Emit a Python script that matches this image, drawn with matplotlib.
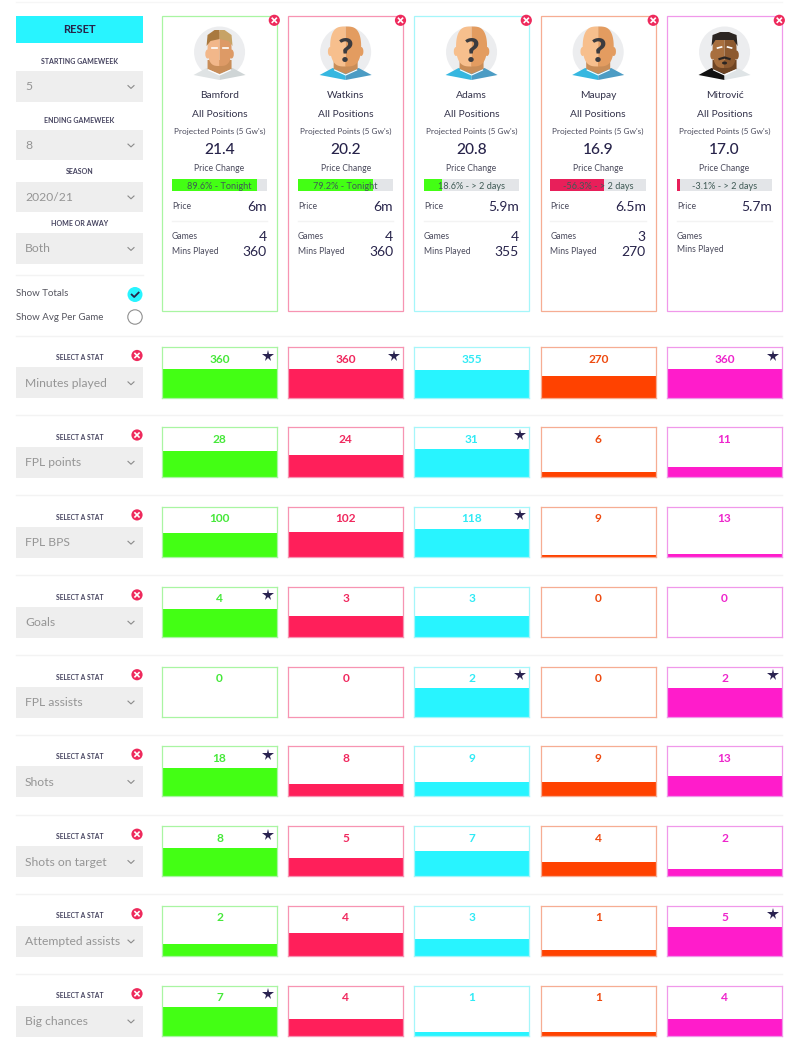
import numpy as np
import matplotlib
matplotlib.use('Agg')
import matplotlib.pyplot as plt
from matplotlib.patches import Rectangle, Circle, Polygon, Ellipse

plt.rcParams['font.family'] = ['Lato', 'DejaVu Sans']

# Player data
players = ['Bamford', 'Watkins', 'Adams', 'Maupay', 'Mitrović']
projected = ['21.4', '20.2', '20.8', '16.9', '17.0']
price_change = [89.6, 79.2, 18.6, -56.3, -3.1]
price_when = ['Tonight', 'Tonight', '> 2 days', '> 2 days', '> 2 days']
prices = ['6m', '6m', '5.9m', '6.5m', '5.7m']
games = ['4', '4', '4', '3', '']
mins = ['360', '360', '355', '270', '']

# Stat rows
stat_names = ['Minutes played', 'FPL points', 'FPL BPS', 'Goals', 'FPL assists',
              'Shots', 'Shots on target', 'Attempted assists', 'Big chances']
minutes_played = [360, 360, 355, 270, 360]
fpl_points = [28, 24, 31, 6, 11]
fpl_bps = [100, 102, 118, 9, 13]
goals = [4, 3, 3, 0, 0]
fpl_assists = [0, 0, 2, 0, 2]
shots = [18, 8, 9, 9, 13]
shots_on_target = [8, 5, 7, 4, 2]
attempted_assists = [2, 4, 3, 1, 5]
big_chances = [7, 4, 1, 1, 4]
stat_rows = [minutes_played, fpl_points, fpl_bps, goals, fpl_assists,
             shots, shots_on_target, attempted_assists, big_chances]

# Filters
filter_labels = ['STARTING GAMEWEEK', 'ENDING GAMEWEEK', 'SEASON', 'HOME OR AWAY']
filter_values = ['5', '8', '2020/21', 'Both']

W, H = 800, 1050
bar_colors = ['#43ff14', '#ff1f5a', '#28f4ff', '#ff4200', '#ff1ccb']
edge_colors = ['#a9f5a2', '#f794b2', '#a5f6fa', '#f6ad93', '#f098ea']
text_colors = ['#46e83a', '#f0285e', '#30eaf5', '#ee4a10', '#ee25cc']
card_left = [162.3, 288.3, 414.3, 540.7, 667.3]
card_right = [276.8, 403, 528.8, 655.7, 781.8]
DARK = '#27234a'
GREY_TXT = '#4a4a5c'
row_top = [347.3, 426.8, 506.7, 586.7, 666.5, 746, 826, 905.5, 985.5]
row_h = 50.2


def px_axes(x0, y0, x1, y1, **kw):
    return fig.add_axes([x0 / W, 1 - y1 / H, (x1 - x0) / W, (y1 - y0) / H], **kw)


fig = plt.figure(figsize=(8, 10.5), dpi=100, facecolor='white')

# page layer in pixel coordinates
bg = fig.add_axes([0, 0, 1, 1], zorder=0)
bg.set_xlim(0, W)
bg.set_ylim(H, 0)
bg.axis('off')


def dropdown(y0, y1, label):
    bg.add_patch(Rectangle((16.3, y0), 126.7, y1 - y0, fc='#eeeeee', ec='none'))
    bg.text(25, (y0 + y1) / 2 + 0.5, label, fontsize=8.7, color='#959595', va='center', ha='left')
    ym = (y0 + y1) / 2 + 0.5
    bg.plot([128, 131, 134], [ym - 1.4, ym + 1.4, ym - 1.4], color='#8a8a8a', lw=0.8)


def remove_icon(x, y, r=5.6):
    bg.add_patch(Circle((x, y), r, fc='#ee2a5c', ec='none', zorder=6))
    d = r * 0.36
    bg.plot([x - d, x + d], [y - d, y + d], color='white', lw=1.2, zorder=7)
    bg.plot([x - d, x + d], [y + d, y - d], color='white', lw=1.2, zorder=7)


def half_head(cx, cy, rx, ry, side):
    # rounded box outline, flatter than an ellipse
    t = np.linspace(-np.pi / 2, np.pi / 2, 40)
    return np.column_stack([cx + side * rx * np.cos(t) ** 0.6,
                            cy + ry * np.sign(np.sin(t)) * np.abs(np.sin(t)) ** 0.9])


def avatar(cx, kind):
    cy = 52
    bg.add_patch(Circle((cx, cy), 25.5, fc='#ecedef', ec='none', zorder=1))
    if kind == 'unknown':
        skin_l, skin_r, neck = '#f7bf8d', '#e39c60', '#c98d58'
        sh_l, sh_r = '#36b7e0', '#4c9cc4'
        head_rx, head_ry, head_y = 15.5, 20, 46.5
    elif kind == 'blond':
        skin_l, skin_r, neck = '#f2b78a', '#dd9a66', '#c98d58'
        sh_l, sh_r = '#dfe3e4', '#cfd5d6'
        head_rx, head_ry, head_y = 12, 17, 49
    else:
        skin_l, skin_r, neck = '#a86f3e', '#8d5a30', '#6e4423'
        sh_l, sh_r = '#111111', '#dfe4e6'
        head_rx, head_ry, head_y = 12, 18, 50
    # shoulders
    bg.add_patch(Polygon([(cx - 26, 75), (cx - 13, 68), (cx, 72), (cx, 80)], fc=sh_l, ec='none', zorder=2))
    bg.add_patch(Polygon([(cx + 26, 75), (cx + 13, 68), (cx, 72), (cx, 80)], fc=sh_r, ec='none', zorder=2))
    # neck
    bg.add_patch(Polygon([(cx - 12, 60), (cx + 12, 60), (cx + 12, 69), (cx, 74), (cx - 12, 69)],
                         fc=neck, ec='none', zorder=3))
    bg.plot([cx - 11, cx, cx + 11], [70, 75, 70], color='white', lw=0.8, zorder=3)
    # ears
    bg.add_patch(Ellipse((cx - head_rx, head_y + 5), 4.5, 9, fc=skin_l, ec='none', zorder=3))
    bg.add_patch(Ellipse((cx + head_rx, head_y + 5), 4.5, 9, fc=skin_r, ec='none', zorder=3))
    # face halves
    bg.add_patch(Polygon(half_head(cx, head_y, head_rx, head_ry, -1), fc=skin_l, ec='none', zorder=4))
    bg.add_patch(Polygon(half_head(cx, head_y, head_rx, head_ry, 1), fc=skin_r, ec='none', zorder=4))
    if kind == 'unknown':
        bg.text(cx, 52, '?', fontsize=24, fontweight='black', color='#3b3b3f',
                ha='center', va='center', zorder=5)
    elif kind == 'blond':
        bg.add_patch(Polygon([(cx - 13, 46), (cx - 12, 35), (cx - 5, 30), (cx, 30), (cx, 39), (cx - 9, 41)],
                             fc='#a9793f', ec='none', zorder=5))
        bg.add_patch(Polygon([(cx + 13, 46), (cx + 12, 35), (cx + 5, 30), (cx, 30), (cx, 39), (cx + 9, 41)],
                             fc='#c7a366', ec='none', zorder=5))
        bg.plot([cx - 8, cx - 3], [48, 48], color='white', lw=1.2, zorder=5)
        bg.plot([cx + 3, cx + 8], [48, 48], color='white', lw=1.2, zorder=5)
    else:
        bg.add_patch(Polygon([(cx - 13, 46), (cx - 12, 35), (cx - 4, 32), (cx + 4, 32), (cx + 12, 35), (cx + 13, 46),
                              (cx + 9, 40), (cx - 9, 40)], fc='#2b2522', ec='none', zorder=5))
        bg.plot([cx - 7, cx - 3], [48, 47], color='white', lw=1.2, zorder=5)
        bg.plot([cx + 3, cx + 7], [47, 48], color='white', lw=1.2, zorder=5)
        bg.plot([cx - 5, cx, cx + 5], [59, 57.5, 59], color='#2b2522', lw=1.6, zorder=5)
        bg.add_patch(Ellipse((cx, 63), 5, 3, fc='#2b2522', ec='none', zorder=5))


# left column
bg.add_patch(Rectangle((16.3, 16.3), 126.7, 26.7, fc='#28f4ff', ec='none'))
bg.text(79.5, 29.5, 'RESET', fontsize=8, fontweight='bold', color=DARK, ha='center', va='center')
filter_label_y = [61.5, 120.5, 172, 224]
filter_box = [(71, 102), (129.7, 160.3), (181.5, 212.3), (233, 264)]
for lab, val, ly, (y0, y1) in zip(filter_labels, filter_values, filter_label_y, filter_box):
    bg.text(79.5, ly, lab, fontsize=5.0, fontweight='bold', color='#45435f', ha='center', va='center')
    dropdown(y0, y1, val)

bg.plot([16, 143], [275, 275], color='#f3f3f3', lw=1)
bg.text(16.5, 294, 'Show Totals', fontsize=7.0, color='#55555f', va='center')
bg.text(16.5, 317.5, 'Show Avg Per Game', fontsize=7.0, color='#55555f', va='center')
bg.add_patch(Circle((135, 294.5), 7.5, fc='#28f4ff', ec='none'))
bg.plot([131.7, 134.2, 138.6], [294.6, 297, 292.6], color=DARK, lw=1.3)
bg.add_patch(Circle((135, 317), 7.2, fc='white', ec='#8f8f8f', lw=0.8))
bg.plot([16, 782], [1.5, 1.5], color='#f6f6f6', lw=1)

# player cards
avatar_kinds = ['blond', 'unknown', 'unknown', 'unknown', 'dark']
for i, name in enumerate(players):
    l, r = card_left[i], card_right[i]
    cx = (l + r) / 2
    bg.add_patch(Rectangle((l, 16.3), r - l, 294.4, fc='white', ec=edge_colors[i], lw=0.9))
    remove_icon(r - 2.5, 20.3)
    avatar(cx, avatar_kinds[i])
    bg.text(cx, 95, name, fontsize=7.4, color='#33324a', ha='center', va='center')
    bg.text(cx, 114.8, 'All Positions', fontsize=7.4, color='#33324a', ha='center', va='center')
    bg.text(cx, 131.6, "Projected Points (5 Gw's)", fontsize=5.95, color=GREY_TXT, ha='center', va='center')
    bg.text(cx, 149.5, projected[i], fontsize=11.2, fontweight='medium', color=DARK, ha='center', va='center')
    bg.text(cx, 168.8, 'Price Change', fontsize=6.2, color=GREY_TXT, ha='center', va='center')

    # price change bar
    pax = px_axes(l + 9.7, 178.7, r - 10, 191.3, zorder=2)
    pax.set_facecolor('#e3e5e8')
    pct = price_change[i]
    pax.barh([0], [abs(pct)], height=1, color='#43ff14' if pct > 0 else '#e81f5a')
    pax.set_xlim(0, 100)
    pax.set_ylim(-0.5, 0.5)
    pax.set_xticks([])
    pax.set_yticks([])
    for s in pax.spines.values():
        s.set_visible(False)
    pax.text(0.5, 0.36, '%.1f%% - %s' % (pct, price_when[i]), transform=pax.transAxes,
             fontsize=6.6, color='#3f5a55', ha='center', va='center')

    x0, x1 = l + 9.7, r - 10
    bg.text(x0, 206.5, 'Price', fontsize=6.2, color=GREY_TXT, va='center')
    bg.text(x1, 207, prices[i], fontsize=10, color=DARK, ha='right', va='center')
    bg.plot([x0, x1], [221, 221], color='#f3f3f3', lw=1)
    bg.text(x0, 236.5, 'Games', fontsize=6.2, color=GREY_TXT, va='center')
    bg.text(x1, 237, games[i], fontsize=10, color=DARK, ha='right', va='center')
    bg.text(x0, 252 if mins[i] else 250, 'Mins Played', fontsize=6.2, color=GREY_TXT, va='center')
    bg.text(x1, 252.5, mins[i], fontsize=10, color=DARK, ha='right', va='center')

# stat rows
for j, (stat, vals) in enumerate(zip(stat_names, stat_rows)):
    top = row_top[j]
    bg.plot([16, 782], [top - 11.5, top - 11.5], color='#f3f3f3', lw=1)
    bg.text(79.5, top + 10.5, 'SELECT A STAT', fontsize=4.9, fontweight='bold', color='#45435f',
            ha='center', va='center')
    dropdown(top + 20, top + 51, stat)
    remove_icon(137, top + 8.2)
    best = max(vals)
    for i, v in enumerate(vals):
        ax = px_axes(card_left[i], top, card_right[i], top + row_h, zorder=2)
        ax.bar([0], [v], width=1, color=bar_colors[i])
        ax.set_xlim(-0.5, 0.5)
        ax.set_ylim(0, best / 0.565)
        ax.set_xticks([])
        ax.set_yticks([])
        for s in ax.spines.values():
            s.set_color(edge_colors[i])
            s.set_linewidth(0.9)
        ax.text(0.5, 0.755, str(v), transform=ax.transAxes, fontsize=8.6, fontweight='bold',
                color=text_colors[i], ha='center', va='center')
        if v == best:
            ax.plot([0.925], [0.83], marker='*', ms=8.5, color='#2a2350', mew=0,
                    transform=ax.transAxes, clip_on=False)

plt.savefig('out.png', dpi=100)
